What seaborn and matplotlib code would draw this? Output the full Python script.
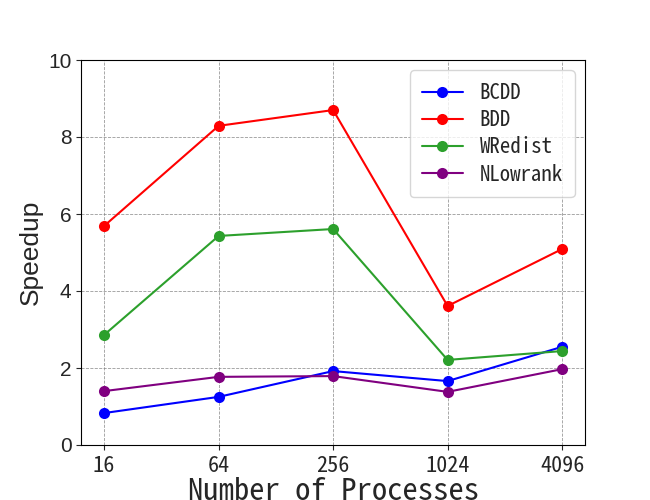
import matplotlib
matplotlib.use("Agg")
import matplotlib.pyplot as plt
import seaborn as sns
import pandas as pd

procs = ["16", "64", "256", "1024", "4096"]
bcdd = [0.83, 1.25, 1.92, 1.66, 2.55]
bdd = [5.69, 8.29, 8.70, 3.61, 5.09]
wredist = [2.86, 5.43, 5.61, 2.21, 2.44]
nlowrank = [1.40, 1.77, 1.79, 1.38, 1.97]
series_names = ["BCDD", "BDD", "WRedist", "NLowrank"]
colors = ["blue", "red", "#2ca02c", "purple"]

rows = []
for name, vals in zip(series_names, [bcdd, bdd, wredist, nlowrank]):
    for i, (p, v) in enumerate(zip(procs, vals)):
        rows.append({"idx": i, "procs": p, "speedup": v, "method": name})
df = pd.DataFrame(rows)

sns.set_style("ticks")
mono = ["Noto Sans Mono CJK SC", "DejaVu Sans Mono"]
sans = ["Liberation Sans", "DejaVu Sans"]
plt.rcParams["font.family"] = sans

fig, ax = plt.subplots(figsize=(6.5, 5), dpi=100)
sns.lineplot(data=df, x="idx", y="speedup", hue="method", hue_order=series_names,
             palette=colors, marker="o", markersize=8, markeredgewidth=0,
             linewidth=1.5, ax=ax)

ax.set_xlim(-0.2, 4.2)
ax.set_ylim(0, 10)
ax.set_xticks(range(len(procs)))
ax.set_xticklabels(procs, fontsize=16, family=mono)
ax.tick_params(axis="y", labelsize=15)
ax.grid(True, linestyle="--", color="gray", linewidth=0.6, alpha=0.8)
ax.set_xlabel("Number of Processes", fontsize=22, family=mono, labelpad=0)
ax.set_ylabel("Speedup", fontsize=19, family=sans)
for s in ax.spines.values():
    s.set_visible(True)
    s.set_color("black")

leg = ax.legend(loc="upper right", prop={"family": mono, "size": 15},
                labelspacing=0.25, handlelength=2.0, borderpad=0.55)
leg.get_frame().set_alpha(0.8)

fig.savefig("out.png", dpi=100)
